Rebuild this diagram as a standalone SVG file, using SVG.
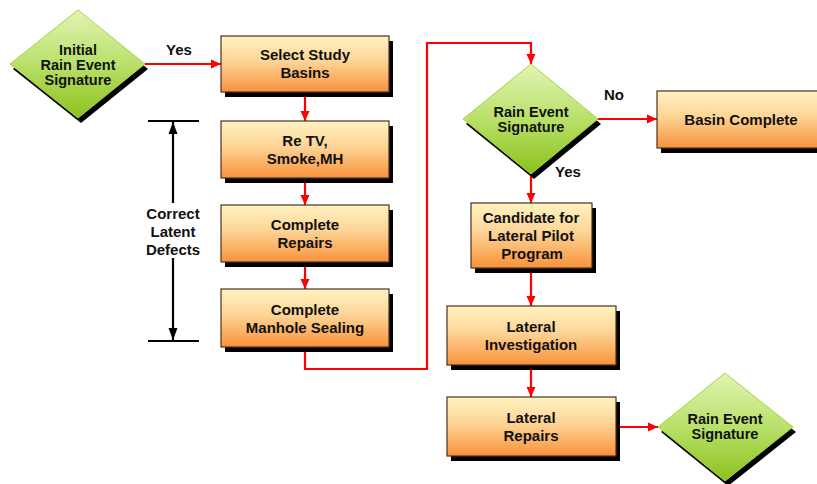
<svg xmlns="http://www.w3.org/2000/svg" width="817" height="484" viewBox="0 0 817 484">
  <defs>
    <linearGradient id="boxFill" x1="0" y1="0" x2="0" y2="1">
      <stop offset="0" stop-color="#fff3c2"/>
      <stop offset="0.45" stop-color="#fdd496"/>
      <stop offset="1" stop-color="#f8923a"/>
    </linearGradient>
    <linearGradient id="diaFill" x1="0" y1="0" x2="0" y2="1">
      <stop offset="0" stop-color="#e2f4b4"/>
      <stop offset="0.5" stop-color="#b9e06a"/>
      <stop offset="1" stop-color="#8bc21c"/>
    </linearGradient>
    <marker id="redHead" markerUnits="userSpaceOnUse" markerWidth="10" markerHeight="10" refX="10" refY="5" orient="auto">
      <path d="M0,0.5 L10,5 L0,9.5 Z" fill="#ff0000"/>
    </marker>
    <marker id="blackHead" markerUnits="userSpaceOnUse" markerWidth="10" markerHeight="12" refX="12" refY="5" orient="auto">
      <path d="M0,0.5 L12,5 L0,9.5 Z" fill="#000000"/>
    </marker>
  </defs>
  <style>
    .box { fill: url(#boxFill); stroke: #4a3320; stroke-width: 1.2; }
    .dia { fill: url(#diaFill); stroke: #a6d443; stroke-width: 1; }
    .shadow { fill: #000000; }
    .lbl { font-family: "Liberation Sans", Arial, sans-serif; font-weight: bold; font-size: 15px; fill: #111111; text-anchor: middle; }
    .dlbl { font-size: 14.5px; }
    .flow { fill: none; stroke: #ff0000; stroke-width: 2.2; marker-end: url(#redHead); }
    .bracket { fill: none; stroke: #000000; stroke-width: 2.2; }
  </style>
  <rect width="817" height="484" fill="#ffffff"/>

  <!-- connectors -->
  <g id="connectors">
    <path class="flow" d="M145,64 L221,64"/>
    <path class="flow" d="M305,92 L305,121"/>
    <path class="flow" d="M305,178 L305,205"/>
    <path class="flow" d="M305,262 L305,289"/>
    <path class="flow" d="M305,347 L305,369 L427,369 L427,43 L531,43 L531,64"/>
    <path class="flow" d="M598,119 L657,119"/>
    <path class="flow" d="M531,174 L531,203"/>
    <path class="flow" d="M531,268 L531,306"/>
    <path class="flow" d="M531,365 L531,397"/>
    <path class="flow" d="M616,427 L658,427"/>
  </g>

  <!-- edge labels -->
  <g id="edge-labels">
    <text class="lbl" x="179" y="55">Yes</text>
    <text class="lbl" x="614" y="100">No</text>
    <text class="lbl" x="568" y="177">Yes</text>
  </g>

  <!-- bracket spanning the latent defect steps -->
  <g id="latent-defects">
    <line class="bracket" x1="148" y1="121" x2="199" y2="121"/>
    <line class="bracket" x1="148" y1="341" x2="199" y2="341"/>
    <line class="bracket" x1="173" y1="203" x2="173" y2="122" marker-end="url(#blackHead)"/>
    <line class="bracket" x1="173" y1="258" x2="173" y2="340" marker-end="url(#blackHead)"/>
    <text class="lbl" x="173" y="219">Correct</text>
    <text class="lbl" x="173" y="237">Latent</text>
    <text class="lbl" x="173" y="255">Defects</text>
  </g>

  <!-- decision: initial signature -->
  <g id="initial-signature">
    <polygon class="shadow" points="81,15 148,69 81,123 13,69"/>
    <polygon class="dia" points="78,10 145,64 78,118 10,64"/>
    <text class="lbl dlbl" x="78" y="55">Initial</text>
    <text class="lbl dlbl" x="78" y="70">Rain Event</text>
    <text class="lbl dlbl" x="78" y="85">Signature</text>
  </g>

  <g id="select-basins">
    <rect class="shadow" x="225" y="41" width="168" height="56"/>
    <rect class="box" x="221" y="36" width="168" height="56"/>
    <text class="lbl" x="305" y="60">Select Study</text>
    <text class="lbl" x="305" y="78">Basins</text>
  </g>

  <g id="retv-smoke">
    <rect class="shadow" x="225" y="126" width="168" height="57"/>
    <rect class="box" x="221" y="121" width="168" height="57"/>
    <text class="lbl" x="305" y="146">Re TV,</text>
    <text class="lbl" x="305" y="164">Smoke,MH</text>
  </g>

  <g id="complete-repairs">
    <rect class="shadow" x="225" y="210" width="168" height="57"/>
    <rect class="box" x="221" y="205" width="168" height="57"/>
    <text class="lbl" x="305" y="230">Complete</text>
    <text class="lbl" x="305" y="248">Repairs</text>
  </g>

  <g id="manhole-sealing">
    <rect class="shadow" x="225" y="294" width="168" height="58"/>
    <rect class="box" x="221" y="289" width="168" height="58"/>
    <text class="lbl" x="305" y="315">Complete</text>
    <text class="lbl" x="305" y="333">Manhole Sealing</text>
  </g>

  <!-- decision: rain event signature -->
  <g id="rain-signature">
    <polygon class="shadow" points="534,69 601,124 534,179 466,124"/>
    <polygon class="dia" points="531,64 598,119 531,174 463,119"/>
    <text class="lbl dlbl" x="531" y="117">Rain Event</text>
    <text class="lbl dlbl" x="531" y="132">Signature</text>
  </g>

  <g id="basin-complete">
    <rect class="shadow" x="661" y="96" width="168" height="57"/>
    <rect class="box" x="657" y="91" width="168" height="57"/>
    <text class="lbl" x="741" y="125">Basin Complete</text>
  </g>

  <g id="lateral-candidate">
    <rect class="shadow" x="475" y="208" width="121" height="65"/>
    <rect class="box" x="471" y="203" width="121" height="65"/>
    <text class="lbl" x="531" y="223">Candidate for</text>
    <text class="lbl" x="531" y="241">Lateral Pilot</text>
    <text class="lbl" x="532" y="259">Program</text>
  </g>

  <g id="lateral-investigation">
    <rect class="shadow" x="451" y="311" width="169" height="59"/>
    <rect class="box" x="447" y="306" width="169" height="59"/>
    <text class="lbl" x="531" y="332">Lateral</text>
    <text class="lbl" x="531" y="350">Investigation</text>
  </g>

  <g id="lateral-repairs">
    <rect class="shadow" x="451" y="402" width="169" height="59"/>
    <rect class="box" x="447" y="397" width="169" height="59"/>
    <text class="lbl" x="531" y="423">Lateral</text>
    <text class="lbl" x="531" y="441">Repairs</text>
  </g>

  <!-- decision: final rain event signature -->
  <g id="final-signature">
    <polygon class="shadow" points="728,378 796,432 728,486 661,432"/>
    <polygon class="dia" points="725,373 793,427 725,481 658,427"/>
    <text class="lbl dlbl" x="725" y="424">Rain Event</text>
    <text class="lbl dlbl" x="725" y="439">Signature</text>
  </g>
</svg>
